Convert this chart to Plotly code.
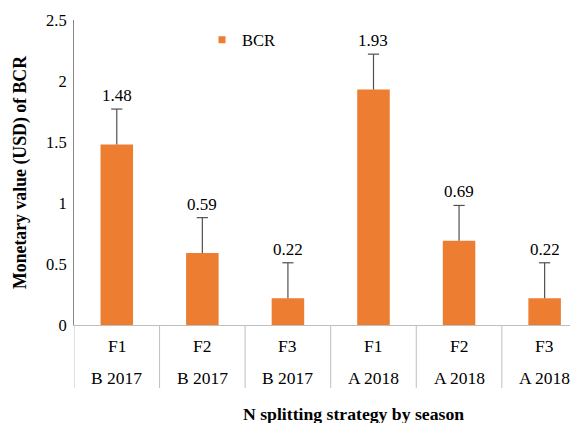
import plotly.graph_objects as go

fert = ["F1", "F2", "F3", "F1", "F2", "F3"]
season = ["B 2017", "B 2017", "B 2017", "A 2018", "A 2018", "A 2018"]
bcr = [1.48, 0.59, 0.22, 1.93, 0.69, 0.22]
err = [0.29, 0.29, 0.29, 0.29, 0.29, 0.29]
yticks = [0, 0.5, 1, 1.5, 2, 2.5]
ytick_text = ["0", "0.5", "1", "1.5", "2", "2.5"]

FONT = "Liberation Serif"
ORANGE = "#ED7D31"
GRID = "#BFBFBF"
ERRC = "#505050"

OFF = 8  # page body margin
W, H = 578 - OFF, 423 - OFF
mt, mb, ml, mr = 20 - OFF, 98, 74 - OFF, 0
ph = H - mt - mb

def py(pix):
    return (H - mb - (pix - OFF)) / ph

def px(pix):
    return (pix - OFF - ml) / (W - ml - mr)

xs = list(range(len(bcr)))
tops = [v + e for v, e in zip(bcr, err)]

fig = go.Figure()
fig.add_trace(go.Bar(
    x=xs, y=bcr, name="BCR", marker=dict(color=ORANGE, line=dict(width=0)),
    width=0.38, showlegend=False,
))
# legend entry with a small square swatch
fig.add_trace(go.Scatter(x=[None], y=[None], mode="markers", name="BCR",
                         marker=dict(symbol="square", size=7, color=ORANGE)))
# upper error bars: stem + cap
stem_x, stem_y = [], []
for i, v, t in zip(xs, bcr, tops):
    stem_x += [i, i, None]
    stem_y += [v, t, None]
fig.add_trace(go.Scatter(x=stem_x, y=stem_y, mode="lines", showlegend=False,
                         line=dict(color=ERRC, width=1.2), hoverinfo="skip"))
fig.add_trace(go.Scatter(x=xs, y=tops, mode="markers", showlegend=False,
                         marker=dict(symbol="line-ew", size=8,
                                     line=dict(color=ERRC, width=1.2)),
                         hoverinfo="skip"))

annotations = []
for i, (v, t) in enumerate(zip(bcr, tops)):
    annotations.append(dict(x=i, y=t, xref="x", yref="y", text=f"{v:.2f}",
                            showarrow=False, yanchor="bottom", yshift=2,
                            font=dict(family=FONT, size=17, color="#000")))
for i, (f, s) in enumerate(zip(fert, season)):
    annotations.append(dict(x=i, y=py(346), xref="x", yref="paper", text=f,
                            showarrow=False, yanchor="middle",
                            font=dict(family=FONT, size=17.5, color="#000")))
    annotations.append(dict(x=i, y=py(378), xref="x", yref="paper", text=s,
                            showarrow=False, yanchor="middle",
                            font=dict(family=FONT, size=17.5, color="#000")))

annotations.append(dict(x=px(353), y=py(414), xref="paper", yref="paper",
                        text="<b>N splitting strategy by season</b>", showarrow=False,
                        yanchor="middle", font=dict(family=FONT, size=17.7, color="#000")))

shapes = []
for i in range(len(bcr) + 1):
    shapes.append(dict(type="line", xref="x", yref="paper", x0=i - 0.5, x1=i - 0.5,
                       y0=py(388), y1=0, line=dict(color=GRID, width=1)))

fig.update_layout(
    width=W, height=H,
    margin=dict(t=mt, b=mb, l=ml, r=mr, autoexpand=False),
    paper_bgcolor="white", plot_bgcolor="white",
    font=dict(family=FONT, size=16, color="#000"),
    showlegend=True,
    legend=dict(x=px(202), y=py(40), xanchor="left", yanchor="middle",
                font=dict(family=FONT, size=16.5, color="#000"),
                bgcolor="rgba(0,0,0,0)"),
    xaxis=dict(range=[-0.5, 5.39], showticklabels=False, ticks="", showgrid=False,
               zeroline=False, showline=True, linecolor=GRID, linewidth=1),
    yaxis=dict(range=[0, 2.5], tickvals=yticks, ticktext=ytick_text, showgrid=False,
               zeroline=False, showline=True, linecolor="#868686", linewidth=1,
               ticks="", ticklabelstandoff=3, tickfont=dict(family=FONT, size=16.5),
               title=dict(text="<b>Monetary value (USD) of BCR</b>", standoff=14,
                          font=dict(family=FONT, size=17.8, color="#000"))),
    annotations=annotations,
    shapes=shapes,
)

fig.write_html("out.html")
